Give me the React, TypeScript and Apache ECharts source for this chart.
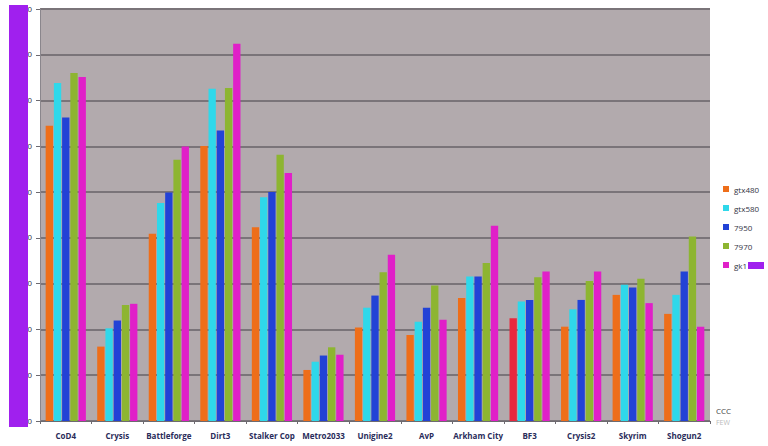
import React, { useEffect, useRef } from "react";
import * as echarts from "echarts";

const categories = ["CoD4", "Crysis", "Battleforge", "Dirt3", "Stalker Cop", "Metro2033", "Unigine2", "AvP", "Arkham City", "BF3", "Crysis2", "Skyrim", "Shogun2"];
const seriesNames = ["gtx480", "gtx580", "7950", "7970", "gk1"];
const gtx480 = [129, 32.5, 81.8, 120.2, 84.7, 22.3, 40.8, 37.6, 53.7, 44.9, 41.2, 55.1, 46.8];
const gtx580 = [147.7, 40.5, 95.2, 145.2, 97.8, 25.9, 49.5, 43.4, 63.1, 52.2, 48.8, 59.5, 55.1];
const r7950 = [132.6, 43.9, 99.8, 126.9, 100, 28.6, 54.8, 49.5, 63.1, 52.9, 52.9, 58.3, 65.3];
const r7970 = [152, 50.7, 114.1, 145.5, 116.3, 32.2, 65, 59.2, 69, 62.8, 61.2, 62.1, 80.6];
const gk1 = [150.3, 51.2, 119.9, 164.8, 108.3, 28.9, 72.6, 44.2, 85.3, 65.3, 65.3, 51.5, 41.2];
const yTicks = { min: 0, max: 180, interval: 20 };
const colors = ["#EE6E1A", "#2FD8EA", "#2242D6", "#8DB531", "#E020C8"];

export default function App() {
  const ref = useRef<HTMLDivElement>(null);
  useEffect(() => {
    if (!ref.current) return;
    const chart = echarts.init(ref.current, null, { renderer: "svg" });
    const allData = [gtx480, gtx580, r7950, r7970, gk1];
    chart.setOption({
      animation: false,
      backgroundColor: "#ffffff",
      grid: { left: 40, right: 58, top: 9, bottom: 25, show: true, backgroundColor: "#B2AAAD", borderWidth: 0 },
      legend: {
        orient: "vertical",
        left: 718,
        top: 180,
        itemWidth: 6,
        itemHeight: 6,
        itemGap: 11,
        icon: "rect",
        textStyle: { fontSize: 8, color: "#333344", fontFamily: "Open Sans" },
        data: seriesNames,
      },
      xAxis: {
        type: "category",
        data: categories,
        axisLine: { lineStyle: { color: "#6d6a70", width: 1 } },
        axisTick: { show: true, length: 3, lineStyle: { color: "#6d6a70" } },
        axisLabel: { fontSize: 8, fontWeight: "bold", color: "#2a2c5a", margin: 10, fontFamily: "Open Sans", interval: 0 },
      },
      yAxis: {
        type: "value",
        min: yTicks.min,
        max: yTicks.max,
        interval: yTicks.interval,
        axisLine: { show: true, lineStyle: { color: "#8a868c" } },
        axisTick: { show: true, length: 4, lineStyle: { color: "#6d6a70" } },
        axisLabel: { fontSize: 8, color: "#333344", margin: 8 },
        splitLine: { lineStyle: { color: "#7a7479", width: 2 } },
      },
      series: allData.map((d, i) => ({
        name: seriesNames[i],
        type: "bar",
        barGap: "12%",
        barCategoryGap: "22%",
        itemStyle: { color: colors[i] },
        data: d.map((v, j) => (i === 0 && categories[j] === "BF3" ? { value: v, itemStyle: { color: "#E8283E" } } : v)),
      })),
      graphic: [
        { type: "rect", z: 100, shape: { x: 9, y: 5, width: 19, height: 422 }, style: { fill: "#A020EE" } },
        { type: "rect", z: 100, shape: { x: 748, y: 262, width: 16, height: 7 }, style: { fill: "#A020EE" } },
        { type: "text", z: 100, left: 716, top: 406, style: { text: "CCC", fontSize: 8, fill: "#444444", fontFamily: "Open Sans" } },
        { type: "text", z: 100, left: 716, top: 419, style: { text: "FEW", fontSize: 7, fill: "#bbbbbb", fontFamily: "Open Sans" } },
      ],
    });
    return () => chart.dispose();
  }, []);
  return <div ref={ref} style={{ position: "fixed", left: 0, top: 0, width: 768, height: 446 }} />;
}
